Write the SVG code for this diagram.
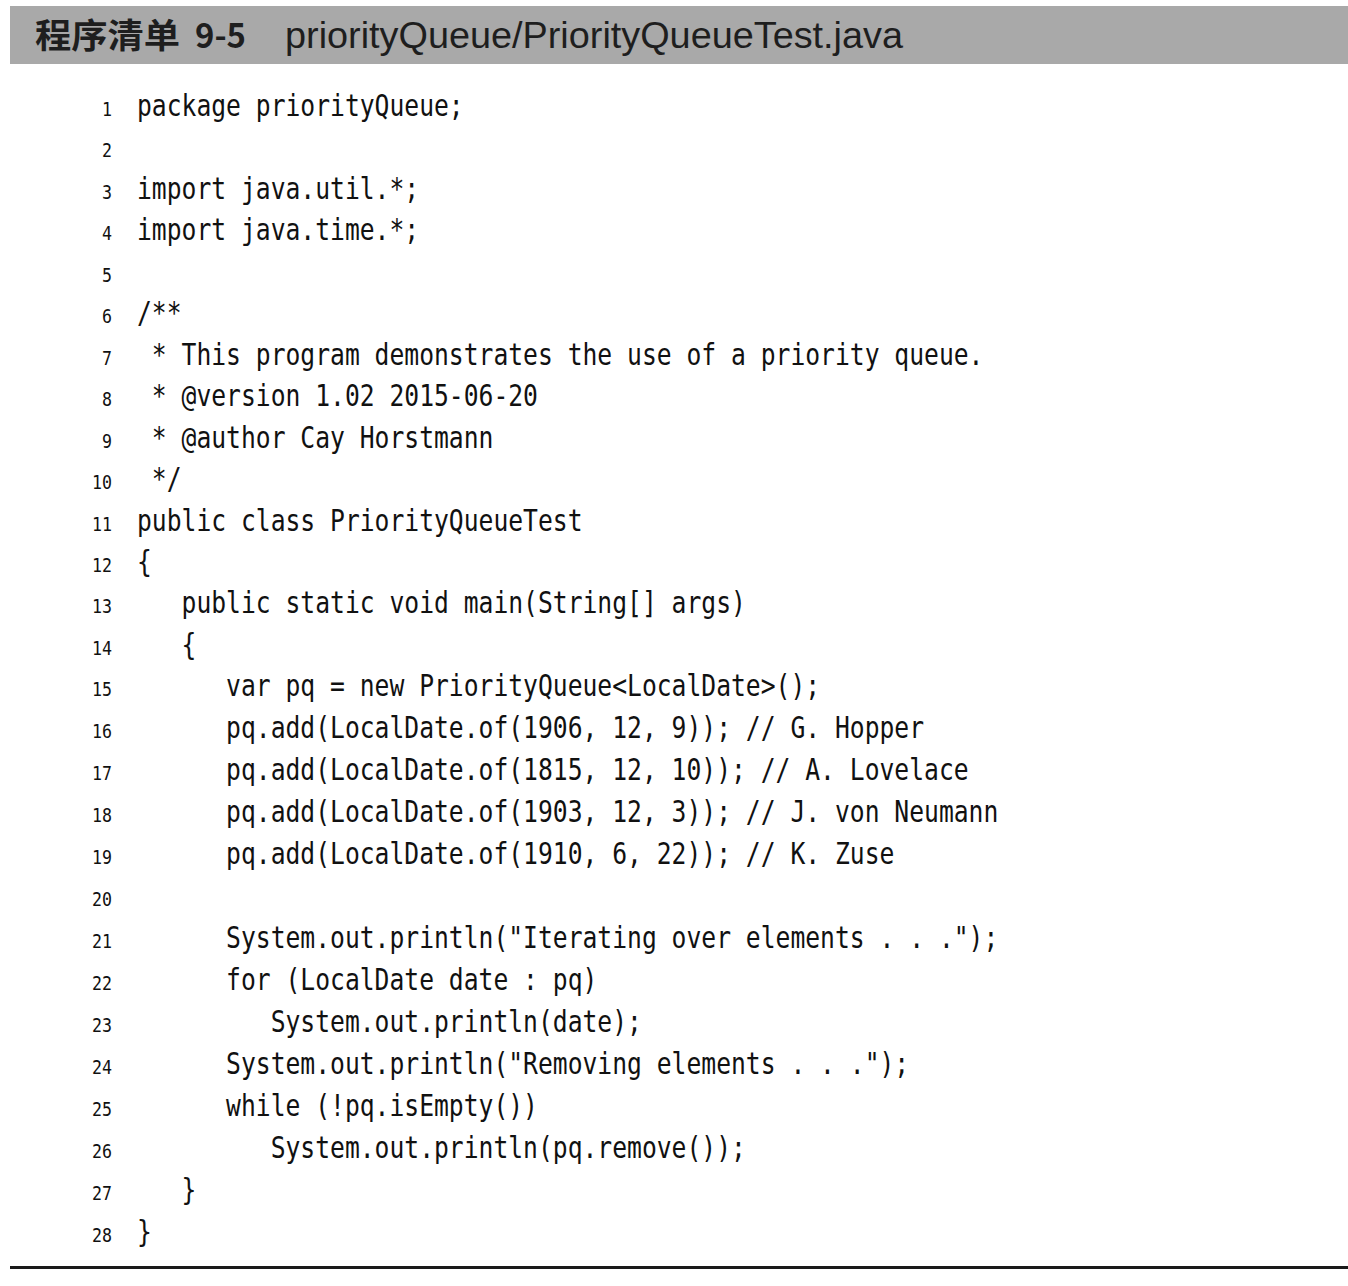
<svg xmlns="http://www.w3.org/2000/svg" width="1348" height="1286" viewBox="0 0 1348 1286">
<style>
.code{font-family:"DejaVu Sans Mono","Liberation Mono",monospace;font-size:31px;fill:#111}
.ln{font-family:"DejaVu Sans Mono","Liberation Mono",monospace;font-size:20px;fill:#111;text-anchor:end}
.hcn{font-family:"Noto Sans CJK SC","Liberation Sans",sans-serif;font-size:34px;font-weight:bold;fill:#1e1e1e}
.hen{font-family:"Liberation Sans","Noto Sans CJK SC",sans-serif;font-size:36px;fill:#1e1e1e}
</style>
<rect x="0" y="0" width="1348" height="1286" fill="#ffffff"/>
<g id="header">
<rect x="10" y="6" width="1338" height="58" fill="#a9a9a9"/>
<text class="hcn" x="35" y="48" textLength="145" lengthAdjust="spacingAndGlyphs">程序清单</text>
<text class="hcn" x="195" y="48" textLength="51" lengthAdjust="spacingAndGlyphs">9-5</text>
<text class="hen" x="285" y="48" textLength="618" lengthAdjust="spacingAndGlyphs">priorityQueue/PriorityQueueTest.java</text>
</g>
<g id="line-numbers">
<text class="ln" x="112" y="116" textLength="10" lengthAdjust="spacingAndGlyphs">1</text>
<text class="ln" x="112" y="157.45" textLength="10" lengthAdjust="spacingAndGlyphs">2</text>
<text class="ln" x="112" y="198.9" textLength="10" lengthAdjust="spacingAndGlyphs">3</text>
<text class="ln" x="112" y="240.35" textLength="10" lengthAdjust="spacingAndGlyphs">4</text>
<text class="ln" x="112" y="281.8" textLength="10" lengthAdjust="spacingAndGlyphs">5</text>
<text class="ln" x="112" y="323.25" textLength="10" lengthAdjust="spacingAndGlyphs">6</text>
<text class="ln" x="112" y="364.7" textLength="10" lengthAdjust="spacingAndGlyphs">7</text>
<text class="ln" x="112" y="406.15" textLength="10" lengthAdjust="spacingAndGlyphs">8</text>
<text class="ln" x="112" y="447.6" textLength="10" lengthAdjust="spacingAndGlyphs">9</text>
<text class="ln" x="112" y="489.05" textLength="20" lengthAdjust="spacingAndGlyphs">10</text>
<text class="ln" x="112" y="530.5" textLength="20" lengthAdjust="spacingAndGlyphs">11</text>
<text class="ln" x="112" y="571.95" textLength="20" lengthAdjust="spacingAndGlyphs">12</text>
<text class="ln" x="112" y="613.4" textLength="20" lengthAdjust="spacingAndGlyphs">13</text>
<text class="ln" x="112" y="654.85" textLength="20" lengthAdjust="spacingAndGlyphs">14</text>
<text class="ln" x="112" y="696.3" textLength="20" lengthAdjust="spacingAndGlyphs">15</text>
<text class="ln" x="112" y="737.75" textLength="20" lengthAdjust="spacingAndGlyphs">16</text>
<text class="ln" x="112" y="779.8" textLength="20" lengthAdjust="spacingAndGlyphs">17</text>
<text class="ln" x="112" y="821.8" textLength="20" lengthAdjust="spacingAndGlyphs">18</text>
<text class="ln" x="112" y="863.8" textLength="20" lengthAdjust="spacingAndGlyphs">19</text>
<text class="ln" x="112" y="905.9" textLength="20" lengthAdjust="spacingAndGlyphs">20</text>
<text class="ln" x="112" y="947.9" textLength="20" lengthAdjust="spacingAndGlyphs">21</text>
<text class="ln" x="112" y="989.9" textLength="20" lengthAdjust="spacingAndGlyphs">22</text>
<text class="ln" x="112" y="1032" textLength="20" lengthAdjust="spacingAndGlyphs">23</text>
<text class="ln" x="112" y="1074" textLength="20" lengthAdjust="spacingAndGlyphs">24</text>
<text class="ln" x="112" y="1116" textLength="20" lengthAdjust="spacingAndGlyphs">25</text>
<text class="ln" x="112" y="1158.1" textLength="20" lengthAdjust="spacingAndGlyphs">26</text>
<text class="ln" x="112" y="1200.1" textLength="20" lengthAdjust="spacingAndGlyphs">27</text>
<text class="ln" x="112" y="1242.1" textLength="20" lengthAdjust="spacingAndGlyphs">28</text>
</g>
<g id="code">
<text class="code" x="137" y="116" textLength="326.7" lengthAdjust="spacingAndGlyphs">package priorityQueue;</text>
<text class="code" x="137" y="198.9" textLength="282.15" lengthAdjust="spacingAndGlyphs">import java.util.*;</text>
<text class="code" x="137" y="240.35" textLength="282.15" lengthAdjust="spacingAndGlyphs">import java.time.*;</text>
<text class="code" x="137" y="323.25" textLength="44.55" lengthAdjust="spacingAndGlyphs">/**</text>
<text class="code" x="151.85" y="364.7" textLength="831.6" lengthAdjust="spacingAndGlyphs">* This program demonstrates the use of a priority queue.</text>
<text class="code" x="151.85" y="406.15" textLength="386.1" lengthAdjust="spacingAndGlyphs">* @version 1.02 2015-06-20</text>
<text class="code" x="151.85" y="447.6" textLength="341.55" lengthAdjust="spacingAndGlyphs">* @author Cay Horstmann</text>
<text class="code" x="151.85" y="489.05" textLength="29.7" lengthAdjust="spacingAndGlyphs">*/</text>
<text class="code" x="137" y="530.5" textLength="445.5" lengthAdjust="spacingAndGlyphs">public class PriorityQueueTest</text>
<text class="code" x="137" y="571.95" textLength="14.85" lengthAdjust="spacingAndGlyphs">{</text>
<text class="code" x="181.55" y="613.4" textLength="564.3" lengthAdjust="spacingAndGlyphs">public static void main(String[] args)</text>
<text class="code" x="181.55" y="654.85" textLength="14.85" lengthAdjust="spacingAndGlyphs">{</text>
<text class="code" x="226.1" y="696.3" textLength="594" lengthAdjust="spacingAndGlyphs">var pq = new PriorityQueue&lt;LocalDate&gt;();</text>
<text class="code" x="226.1" y="737.75" textLength="697.95" lengthAdjust="spacingAndGlyphs">pq.add(LocalDate.of(1906, 12, 9)); // G. Hopper</text>
<text class="code" x="226.1" y="779.8" textLength="742.5" lengthAdjust="spacingAndGlyphs">pq.add(LocalDate.of(1815, 12, 10)); // A. Lovelace</text>
<text class="code" x="226.1" y="821.8" textLength="772.2" lengthAdjust="spacingAndGlyphs">pq.add(LocalDate.of(1903, 12, 3)); // J. von Neumann</text>
<text class="code" x="226.1" y="863.8" textLength="668.25" lengthAdjust="spacingAndGlyphs">pq.add(LocalDate.of(1910, 6, 22)); // K. Zuse</text>
<text class="code" x="226.1" y="947.9" textLength="772.2" lengthAdjust="spacingAndGlyphs">System.out.println("Iterating over elements . . .");</text>
<text class="code" x="226.1" y="989.9" textLength="371.25" lengthAdjust="spacingAndGlyphs">for (LocalDate date : pq)</text>
<text class="code" x="270.65" y="1032" textLength="371.25" lengthAdjust="spacingAndGlyphs">System.out.println(date);</text>
<text class="code" x="226.1" y="1074" textLength="683.1" lengthAdjust="spacingAndGlyphs">System.out.println("Removing elements . . .");</text>
<text class="code" x="226.1" y="1116" textLength="311.85" lengthAdjust="spacingAndGlyphs">while (!pq.isEmpty())</text>
<text class="code" x="270.65" y="1158.1" textLength="475.2" lengthAdjust="spacingAndGlyphs">System.out.println(pq.remove());</text>
<text class="code" x="181.55" y="1200.1" textLength="14.85" lengthAdjust="spacingAndGlyphs">}</text>
<text class="code" x="137" y="1242.1" textLength="14.85" lengthAdjust="spacingAndGlyphs">}</text>
</g>
<g id="footer">
<rect x="10" y="1266" width="1338" height="3" fill="#1a1a1a"/>
</g>
</svg>
